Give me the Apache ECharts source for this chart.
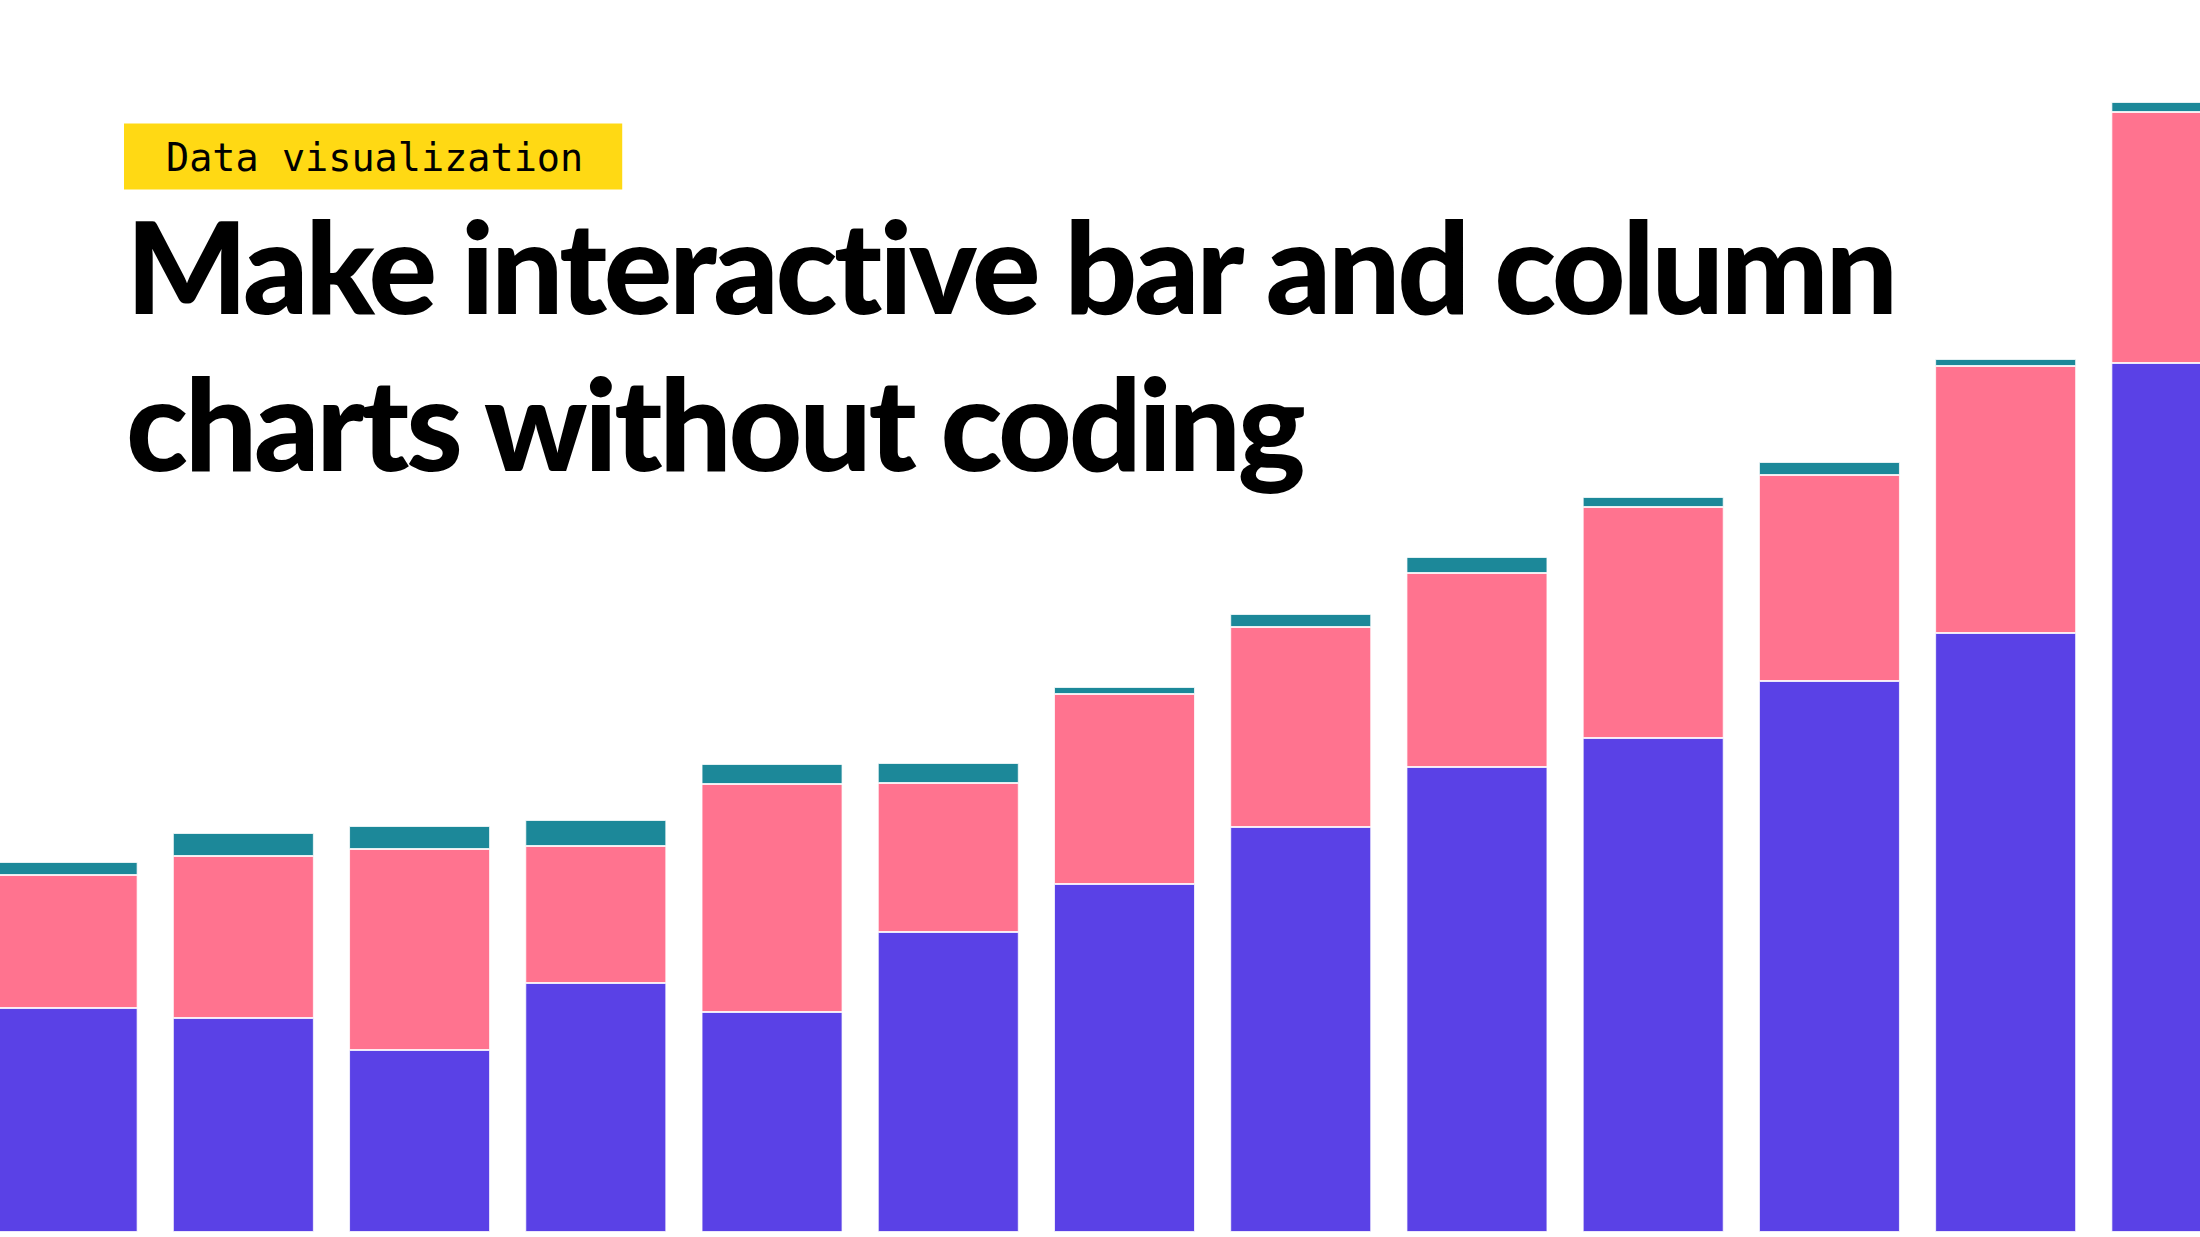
<!DOCTYPE html>
<html>
<head>
<meta charset="utf-8">
<script src="https://cdn.jsdelivr.net/npm/echarts@6/dist/echarts.min.js"></script>
<style>
html,body{margin:0;padding:0;background:#fff;}
#chart{width:2200px;height:1237px;}
#chart text{font-variant-ligatures:none;font-feature-settings:"liga" 0,"clig" 0,"dlig" 0;}
#chart text[style*="Lato"]{letter-spacing:-3.3px;}
</style>
</head>
<body>
<div id="chart"></div>
<script>
// Data (arbitrary units)
const categories = ['1','2','3','4','5','6','7','8','9','10','11','12','13'];
const seriesBase   = [22.4, 21.4, 18.2, 24.9, 22.0, 30.0, 34.8, 40.5, 46.5, 49.4, 55.1, 59.9, 86.9];
const seriesMiddle = [13.3, 16.2, 20.1, 13.7, 22.8, 14.9, 19.0, 20.0, 19.4, 23.1, 20.6, 26.7, 25.1];
const seriesTop    = [1.3, 2.3, 2.3, 2.6, 2.0, 2.0, 0.7, 1.3, 1.6, 1.0, 1.3, 0.7, 1.0];
const tagText = 'Data visualization';
const headline = 'Make interactive bar and column\ncharts without coding';

const chart = echarts.init(document.getElementById('chart'), null, {renderer: 'svg'});
const border = {borderColor: 'rgba(255,255,255,0.75)', borderWidth: 1};
chart.setOption({
  animation: false,
  backgroundColor: '#ffffff',
  grid: {left: -21, width: 2291, top: 0, bottom: 5, outerBoundsMode: 'none', containLabel: false},
  xAxis: {type: 'category', data: categories, show: false},
  yAxis: {type: 'value', min: 0, max: 123.2, show: false, splitLine: {show: false}},
  series: [
    {type: 'bar', stack: 's', barWidth: 141, data: seriesBase, itemStyle: Object.assign({color: '#5A41E6'}, border)},
    {type: 'bar', stack: 's', barWidth: 141, data: seriesMiddle, itemStyle: Object.assign({color: '#FF738F'}, border)},
    {type: 'bar', stack: 's', barWidth: 141, data: seriesTop, itemStyle: Object.assign({color: '#1C8899'}, border)}
  ],
  title: [
    {
      text: headline,
      left: 126, top: 186,
      padding: 0,
      textStyle: {fontFamily: 'Lato', fontWeight: 900, fontSize: 128, lineHeight: 157, color: '#000'}
    },
    {
      text: tagText,
      left: 124, top: 124,
      padding: [14, 39, 13, 42],
      backgroundColor: '#FFD914',
      textStyle: {fontFamily: 'DejaVu Sans Mono', fontWeight: 'normal', fontSize: 38.5, lineHeight: 38, color: '#000'}
    }
  ]
});
</script>
</body>
</html>
